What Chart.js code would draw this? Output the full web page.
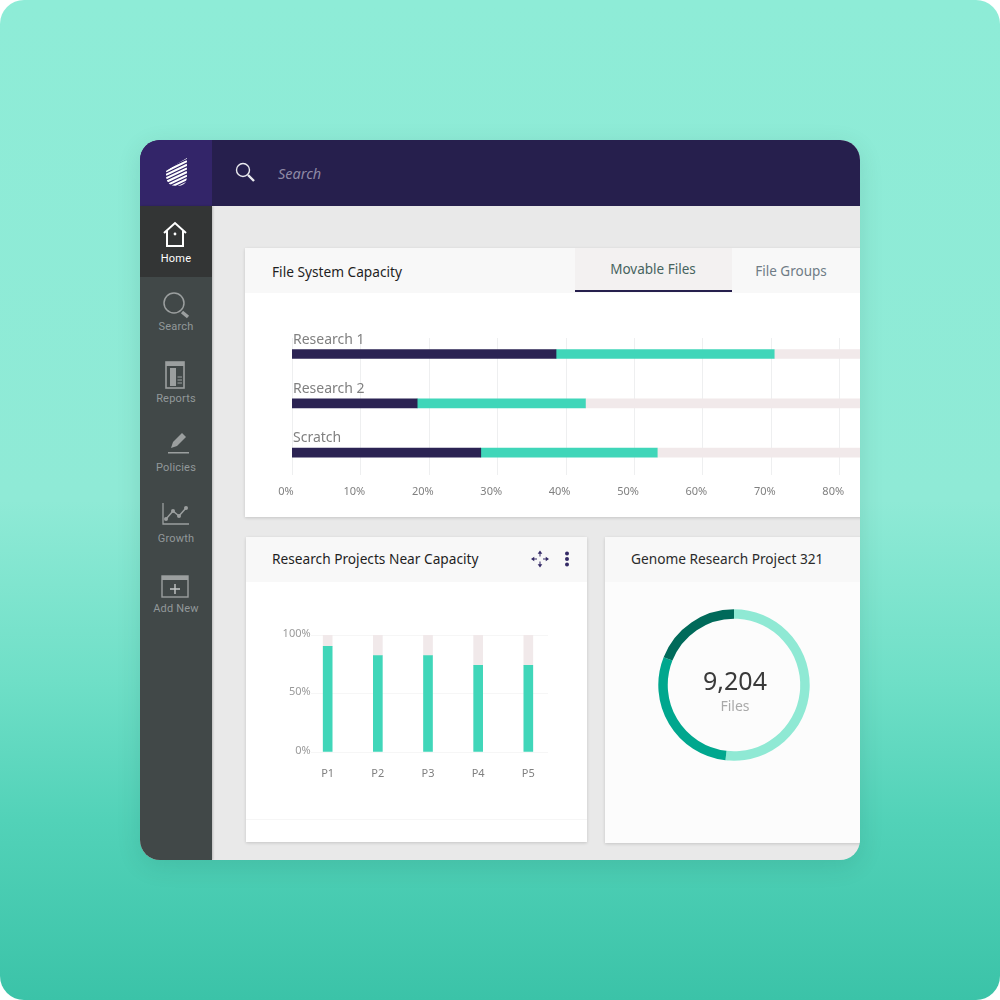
<!DOCTYPE html>
<html>
<head>
  <meta charset="utf-8">
  <title>File System Capacity</title>
  <script src="https://cdn.jsdelivr.net/npm/chart.js@4"></script>
  <style>
  html, body { margin: 0; padding: 0; background: #fff; }
  #page { position: relative; width: 1000px; height: 1000px; overflow: hidden; border-radius: 24px;
          background: linear-gradient(#8eecd7 0%, #8feAd6 50%, #6fdfc7 68%, #52d2b8 82%, #3bc3a8 100%);
          font-family: "Noto Sans", sans-serif; }
  #app { position: absolute; left: 140px; top: 140px; width: 720px; height: 720px; overflow: hidden;
         border-radius: 20px; background: #e9e9e9; box-shadow: 0 6px 24px rgba(0,60,50,.12); }
  .abs { position: absolute; }
  .txt { position: absolute; white-space: nowrap; line-height: 1; }
  .c { transform: translate(-50%, -50%); }
  .l { transform: translateY(-50%); }
  .card { position: absolute; background: #fff; box-shadow: 0 1px 3px rgba(0,0,0,.16); }
  .nav { position: absolute; left: 0; width: 72px; text-align: center; font: 11px Roboto, sans-serif; color: #92989a; transform: translateY(-50%); letter-spacing: .2px; }
  canvas { position: absolute; }
  </style>
</head>
<body>
<div id="page">
<div id="app">
  <!-- coordinates inside #app are page coordinates minus 140 -->
  <div class="abs" style="left:0;top:0;width:720px;height:66px;background:#261f4d"></div>
  <div class="abs" style="left:0;top:0;width:72px;height:66px;background:#332569"></div>
  <svg class="abs" style="left:26px;top:18px" width="21" height="28" viewBox="0 0 21 28">
    <defs><clipPath id="drop"><path d="M21 0 L21 20 Q20 28 11 28 Q1 28 0 19 L0 13 Q10 6 21 0Z"/></clipPath></defs>
    <g clip-path="url(#drop)" stroke="#fff" stroke-width="2.1">
      <path d="M0 6 L21 -4 M0 9.6 L21 -0.4 M0 13.2 L21 3.2 M0 16.8 L21 6.8 M0 20.4 L21 10.4 M0 24 L21 14 M0 27.6 L21 17.6 M0 31.2 L21 21.2 M0 34.8 L21 24.8"/>
    </g>
  </svg>
  <svg class="abs" style="left:95px;top:22px" width="22" height="22" viewBox="0 0 22 22" fill="none" stroke="#e9e9ee" stroke-width="1.4">
    <circle cx="8" cy="8" r="6.5"/><path d="M13 13 L19 19" stroke-width="2.4"/>
  </svg>
  <div class="txt l" style="left:138px;top:33px;font-size:14.5px;font-style:italic;color:#8f8aa5">Search</div>

  <div class="abs" style="left:0;top:66px;width:72px;height:654px;background:#414848;box-shadow:1px 0 2px rgba(0,0,0,.2)"></div>
  <div class="abs" style="left:0;top:66px;width:72px;height:71px;background:#333535"></div>

  <svg class="abs" style="left:22px;top:80px" width="26" height="28" viewBox="0 0 26 28" fill="none" stroke="#fff" stroke-width="2">
    <path d="M2 13 L13 3 L24 13"/><path d="M5 11 V26 H21 V11"/><circle cx="13" cy="14" r="1.4" fill="#fff" stroke="none"/>
  </svg>
  <div class="nav" style="top:118px;color:#fff">Home</div>

  <svg class="abs" style="left:21px;top:150px" width="30" height="30" viewBox="0 0 30 30" fill="none" stroke="#9b9f9f" stroke-width="1.5">
    <circle cx="13" cy="13" r="10"/><path d="M21 22 L27 27" stroke-width="3.4"/>
  </svg>
  <div class="nav" style="top:186px">Search</div>

  <svg class="abs" style="left:25px;top:221px" width="22" height="28" viewBox="0 0 22 28">
    <rect x="1" y="1" width="18" height="26" fill="none" stroke="#9b9f9f" stroke-width="1.6"/>
    <rect x="1" y="1" width="18" height="4" fill="#9b9f9f"/>
    <rect x="5" y="7" width="6" height="18" fill="#9b9f9f"/>
    <path d="M12.5 16 H17 M12.5 19 H17 M12.5 22 H17" stroke="#9b9f9f"/>
  </svg>
  <div class="nav" style="top:258px">Reports</div>

  <svg class="abs" style="left:26px;top:292px" width="24" height="24" viewBox="0 0 24 24">
    <path d="M5 16 L7 10 L16 1 L20 5 L11 14Z" fill="#9b9f9f"/>
    <rect x="2" y="20" width="21" height="1.5" fill="#9b9f9f"/>
  </svg>
  <div class="nav" style="top:327px">Policies</div>

  <svg class="abs" style="left:21px;top:362px" width="30" height="24" viewBox="0 0 30 24" fill="none" stroke="#9b9f9f">
    <path d="M2 1 V22 H28" stroke-width="1.3"/><path d="M5 17 L12 9 L18 14 L25 6" stroke-width="1.5"/>
    <g fill="#9b9f9f" stroke="none"><circle cx="5" cy="17" r="2"/><circle cx="12" cy="9" r="2"/><circle cx="18" cy="14" r="2"/><circle cx="25" cy="6" r="2"/></g>
  </svg>
  <div class="nav" style="top:398px">Growth</div>

  <svg class="abs" style="left:21px;top:435px" width="28" height="24" viewBox="0 0 28 24">
    <rect x="1" y="1" width="26" height="21" fill="none" stroke="#9b9f9f" stroke-width="1.4"/>
    <rect x="1" y="1" width="26" height="4" fill="#9b9f9f"/>
    <path d="M14 9 V19 M9 14 H19" stroke="#c4c7c7" stroke-width="1.4"/>
  </svg>
  <div class="nav" style="top:468px">Add New</div>

  <!-- top card -->
  <div class="card" style="left:105px;top:108px;width:640px;height:269px"></div>
  <div class="abs" style="left:105px;top:108px;width:615px;height:45px;background:#f8f8f8"></div>
  <div class="abs" style="left:435px;top:108px;width:157px;height:44px;background:#f3f1f1;border-bottom:2px solid #261f4d;box-sizing:border-box"></div>
  <div class="txt l" style="left:132px;top:132px;font-size:13.7px;color:#1f1f1f">File System Capacity</div>
  <div class="txt c" style="left:513px;top:130px;font-size:13.5px;color:#46635e">Movable Files</div>
  <div class="txt c" style="left:651px;top:132px;font-size:13.5px;color:#6f7c86">File Groups</div>
  <canvas id="capacityChart" width="750" height="179" style="left:130px;top:180px;width:750px;height:179px"></canvas>

  <!-- near capacity card -->
  <div class="card" style="left:106px;top:397px;width:341px;height:305px"></div>
  <div class="abs" style="left:106px;top:397px;width:341px;height:45px;background:#f8f8f8"></div>
  <div class="abs" style="left:106px;top:679px;width:341px;height:1px;background:#f6f6f6"></div>
  <div class="txt l" style="left:132px;top:419px;font-size:13.7px;color:#1f1f1f">Research Projects Near Capacity</div>
  <svg class="abs" style="left:391px;top:410px" width="18" height="18" viewBox="0 0 21 20" fill="#342a66" stroke="#342a66">
    <path d="M10.5 3 V7 M10.5 13 V17 M3 10 H7 M14 10 H18" fill="none" stroke-width="1.2"/>
    <path d="M10.5 0 L13.2 3.8 H7.8Z M10.5 20 L13.2 16.2 H7.8Z M0 10 L3.8 7.3 V12.7Z M21 10 L17.2 7.3 V12.7Z" stroke="none"/>
  </svg>
  <svg class="abs" style="left:423px;top:411px" width="8" height="16" viewBox="0 0 8 16" fill="#342a66">
    <circle cx="4" cy="2.5" r="2"/><circle cx="4" cy="8" r="2"/><circle cx="4" cy="13.5" r="2"/>
  </svg>
  <canvas id="projectsChart" width="300" height="162" style="left:130px;top:480px;width:300px;height:162px"></canvas>

  <!-- genome card -->
  <div class="card" style="left:465px;top:397px;width:280px;height:306px;background:#fcfcfc"></div>
  <div class="abs" style="left:465px;top:397px;width:255px;height:45px;background:#f8f8f8"></div>
  <div class="txt l" style="left:491px;top:419px;font-size:13.7px;color:#2b2b2b">Genome Research Project 321</div>
  <canvas id="filesChart" width="160" height="160" style="left:514px;top:465px;width:160px;height:160px"></canvas>
  <div class="txt c" style="left:595px;top:540px;font-size:25px;color:#3a3a3a" id="filesTotal"></div>
  <div class="txt c" style="left:595px;top:566px;font-size:14px;color:#a9a9a9">Files</div>
</div>
</div>

<script>
// file system capacity
var capacityLabels = ["Research 1", "Research 2", "Scratch"];
var capacityMovable = [38.6, 18.3, 27.6];
var capacityOther = [31.9, 24.6, 25.8];
var capacityFree = [29.5, 57.1, 46.6];

// near capacity projects
var projectLabels = ["P1", "P2", "P3", "P4", "P5"];
var projectUsed = [90.3, 82.3, 82.3, 74, 74];
var projectFree = [9.7, 17.7, 17.7, 26, 26];

// genome project donut
var filesTotal = "9,204";
var filesLabels = ["A", "B", "C"];
var filesShare = [51.8, 29.2, 19];

var NAVY = "#2b2353", TEAL = "#40d6b9", PALE = "#f1e9ea";
var TICK = "#808080";
var FONT = '"Noto Sans", sans-serif';

document.getElementById("filesTotal").textContent = filesTotal;

// grid lines do not span the full chart area in the reference, so draw them from the ticks
var shortGrid = {
  id: "shortGrid",
  beforeDatasetsDraw: function(chart, args, opts) {
    var s = chart.scales[opts.axis], c = chart.ctx;
    c.save();
    c.strokeStyle = opts.color;
    c.lineWidth = 1;
    s.ticks.forEach(function(t) {
      var p = Math.round(s.getPixelForValue(t.value)) + 0.5;
      c.beginPath();
      if (opts.axis == "x") { c.moveTo(p, opts.from); c.lineTo(p, opts.to); }
      else { c.moveTo(opts.from, p); c.lineTo(opts.to, p); }
      c.stroke();
    });
    c.restore();
  }
};

new Chart(document.getElementById("capacityChart"), {
  type: "bar",
  plugins: [shortGrid],
  data: {
    labels: capacityLabels,
    datasets: [
      { data: capacityMovable, backgroundColor: NAVY },
      { data: capacityOther, backgroundColor: TEAL },
      { data: capacityFree, backgroundColor: PALE }
    ]
  },
  options: {
    indexAxis: "y",
    responsive: false,
    animation: false,
    datasets: { bar: { barThickness: 9 } },
    layout: { padding: { top: 5.7, right: 44, left: 0, bottom: 0 } },
    plugins: {
      legend: { display: false },
      tooltip: { enabled: false },
      shortGrid: { axis: "x", from: 18, to: 155, color: "#eeeff0" }
    },
    scales: {
      x: {
        stacked: true, min: 0, max: 100,
        grid: { display: false, drawTicks: false },
        border: { display: false },
        afterFit: function(s) { s.height = 21.8; },
        ticks: {
          stepSize: 10, autoSkip: false, maxRotation: 0, padding: 8, labelOffset: -6,
          color: TICK, font: { family: FONT, size: 11 },
          callback: function(v) { return v + "%"; }
        }
      },
      y: {
        stacked: true,
        grid: { display: false, drawTicks: false },
        border: { display: false },
        afterFit: function(s) { s.width = 22; },
        ticks: {
          mirror: true, padding: 1, labelOffset: -14.5, z: 1,
          color: "#808080", font: { family: FONT, size: 14 }
        }
      }
    }
  }
});

new Chart(document.getElementById("projectsChart"), {
  type: "bar",
  plugins: [shortGrid],
  data: {
    labels: projectLabels,
    datasets: [
      { data: projectUsed, backgroundColor: TEAL },
      { data: projectFree, backgroundColor: PALE }
    ]
  },
  options: {
    responsive: false,
    animation: false,
    datasets: { bar: { barThickness: 9 } },
    layout: { padding: { top: 15, right: 16.6, left: 0, bottom: 0 } },
    plugins: {
      legend: { display: false },
      tooltip: { enabled: false },
      shortGrid: { axis: "y", from: 41, to: 278, color: "#f6f6f6" }
    },
    scales: {
      x: {
        stacked: true,
        grid: { display: false, drawTicks: false },
        border: { display: false },
        afterFit: function(s) { s.height = 30.3; },
        ticks: { padding: 16, color: TICK, font: { family: FONT, size: 11 } }
      },
      y: {
        stacked: true, min: 0, max: 100,
        grid: { display: false, drawTicks: false },
        border: { display: false },
        afterFit: function(s) { s.width = 32.6; },
        ticks: {
          stepSize: 50, mirror: true, crossAlign: "far", padding: -20, labelOffset: -1, z: 1,
          color: "#9a9a9a", font: { family: FONT, size: 11 },
          callback: function(v) { return v + "%"; }
        }
      }
    }
  }
});

new Chart(document.getElementById("filesChart"), {
  type: "doughnut",
  data: {
    labels: filesLabels,
    datasets: [{ data: filesShare, backgroundColor: ["#8fe9d4", "#00a78e", "#006a5a"], borderWidth: 0 }]
  },
  options: {
    responsive: false,
    animation: false,
    cutout: "87.5%",
    layout: { padding: 4.3 },
    plugins: { legend: { display: false }, tooltip: { enabled: false } }
  }
});
</script>
</body>
</html>
